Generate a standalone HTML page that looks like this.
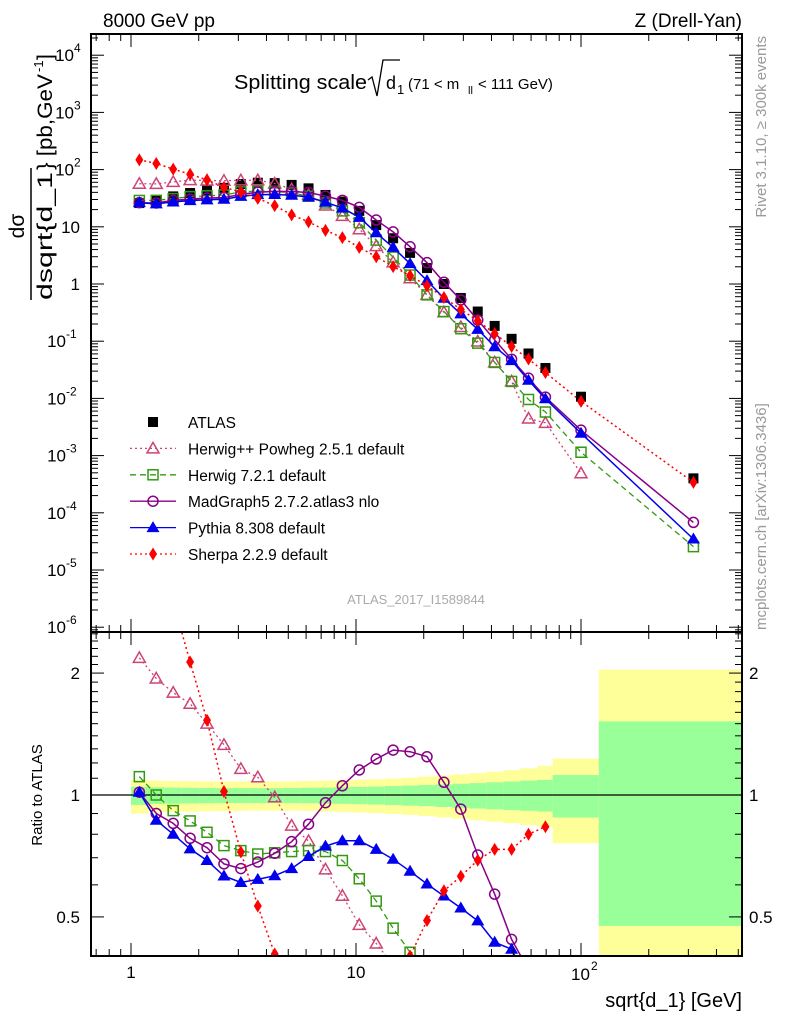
<!DOCTYPE html>
<html><head><meta charset="utf-8"><style>
html,body{margin:0;padding:0;background:#fff;overflow:hidden;width:786px;height:1024px}
svg{display:block;font-family:"Liberation Sans",sans-serif}
</style></head><body>
<svg id="c" width="786" height="1024" viewBox="0 0 786 1024">
<defs>
<clipPath id="clipTop"><rect x="91" y="34" width="651" height="598"/></clipPath>
<clipPath id="clipRat"><rect x="91" y="632" width="651" height="324"/></clipPath>
</defs>
<g id="bands" clip-path="url(#clipRat)"></g>
<g id="marksTop" clip-path="url(#clipTop)"></g>
<g id="marksRat" clip-path="url(#clipRat)"></g>
<g id="axes"></g>
<text x="103" y="27" font-size="19">8000 GeV pp</text>
<text x="742" y="27" font-size="19" text-anchor="end">Z (Drell-Yan)</text>
<g>
<text x="234" y="89" font-size="20" textLength="133" lengthAdjust="spacingAndGlyphs">Splitting scale</text>
<path d="M368,80 L372,77 L377,96 L383,60 L400,60" fill="none" stroke="#000" stroke-width="1.3"/>
<text x="386" y="89" font-size="18">d</text><text x="397" y="94" font-size="13">1</text>
<text x="408" y="89" font-size="15">(71 &lt; m</text><text x="468" y="94" font-size="11">ll</text><text x="478" y="89" font-size="15">&lt; 111 GeV)</text>
</g>
<text transform="translate(766,36) rotate(-90)" text-anchor="end" font-size="15" fill="#999">Rivet 3.1.10, ≥ 300k events</text>
<text transform="translate(766,630) rotate(-90)" font-size="15" fill="#999">mcplots.cern.ch [arXiv:1306.3436]</text>
<text x="416" y="604" font-size="13" fill="#aaa" text-anchor="middle">ATLAS_2017_I1589844</text>
<g transform="rotate(-90)">
<text x="-226" y="24" font-size="21" text-anchor="middle">dσ</text>
<line x1="-300" x2="-168" y1="31" y2="31" stroke="#000" stroke-width="1.5"/>
<text x="-300" y="52" font-size="21" textLength="128" lengthAdjust="spacingAndGlyphs">dsqrt{d_1</text>
<text x="-170" y="52" font-size="21" textLength="96" lengthAdjust="spacingAndGlyphs">} [pb,GeV</text><text x="-72" y="43" font-size="13">-1</text><text x="-60" y="52" font-size="21">]</text>
</g>
<text transform="translate(42,795) rotate(-90)" text-anchor="middle" font-size="15">Ratio to ATLAS</text>
<text x="742" y="1007" font-size="20" text-anchor="end">sqrt{d_1} [GeV]</text>
<g id="legend"></g>
</svg>
<script>
const xCenters=[1.089,1.295,1.540,1.831,2.177,2.589,3.078,3.660,4.352,5.175,6.153,7.316,8.699,10.34,12.30,14.62,17.39,20.68,24.59,29.23,34.76,41.33,49.15,58.44,69.49,100,316];
const binEdges=[1.0,1.189,1.413,1.680,1.998,2.376,2.825,3.359,3.994,4.749,5.647,6.714,7.983,9.492,11.29,13.42,15.96,18.97,22.56,26.83,31.90,37.93,45.10,53.63,63.76,74.8,120,600];
const atlas=[26,29,34,39,43,48,56,59,58,54,47,36,27.5,19,10.7,6.3,3.5,1.9,1.0,0.57,0.33,0.185,0.11,0.061,0.034,0.0107,0.0004];
const ratioHerwigPP=[2.18,1.94,1.79,1.68,1.50,1.33,1.16,1.106,0.987,0.84,0.77,0.655,0.564,0.478,0.43,0.38,0.36,0.34,0.32,0.31,0.30,0.23,0.18,0.073,0.11,0.046,null];
const ratioHerwig7=[1.11,1.0,0.915,0.863,0.809,0.75,0.729,0.715,0.72,0.725,0.729,0.725,0.689,0.621,0.547,0.469,0.409,0.34,0.33,0.29,0.28,0.23,0.18,0.157,0.17,0.107,0.064];
const ratioMadGraph=[1.016,0.90,0.851,0.782,0.741,0.676,0.658,0.683,0.718,0.767,0.847,0.957,1.054,1.153,1.227,1.291,1.279,1.243,1.075,0.923,0.711,0.569,0.44,0.37,0.31,0.26,0.17];
const ratioPythia=[1.016,0.866,0.80,0.736,0.689,0.631,0.608,0.619,0.632,0.658,0.705,0.748,0.771,0.771,0.734,0.694,0.648,0.603,0.563,0.526,0.489,0.433,0.416,0.34,0.29,0.23,0.087];
const ratioSherpa=[5.7,4.4,3.0,2.13,1.53,1.02,0.723,0.532,0.405,0.30,0.26,0.24,0.235,0.23,0.28,0.32,0.40,0.49,0.58,0.63,0.69,0.734,0.734,0.80,0.835,0.83,0.85];
const totUp=[1.09,1.085,1.083,1.082,1.081,1.08,1.08,1.08,1.08,1.081,1.083,1.085,1.088,1.091,1.094,1.098,1.103,1.11,1.118,1.125,1.133,1.142,1.152,1.164,1.18,1.23,2.04];
const totDn=[0.90,0.905,0.908,0.91,0.912,0.913,0.914,0.915,0.915,0.915,0.913,0.911,0.908,0.905,0.902,0.898,0.893,0.887,0.88,0.873,0.866,0.859,0.851,0.843,0.835,0.76,0.2];
const statUp=[1.048,1.045,1.043,1.042,1.041,1.04,1.04,1.04,1.04,1.041,1.042,1.043,1.045,1.047,1.049,1.052,1.055,1.058,1.062,1.066,1.07,1.075,1.08,1.085,1.09,1.12,1.52];
const statDn=[0.945,0.95,0.952,0.953,0.954,0.955,0.955,0.955,0.955,0.955,0.954,0.953,0.951,0.949,0.947,0.944,0.941,0.938,0.934,0.93,0.926,0.922,0.918,0.914,0.91,0.88,0.475];
const topTickExps=[4,3,2,1,0,-1,-2,-3,-4,-5,-6];
const ratioTickLabels=["0.5","1","2"];

const NS="http://www.w3.org/2000/svg";
const L=91,R=742,T=34,M=632,B=956;
const xS=v=>131+225*Math.log10(v);
const yT=v=>284-57.2*Math.log10(v);
const yR=r=>795-405*Math.log10(r);
function mk(tag,attrs,parent){const e=document.createElementNS(NS,tag);for(const k in attrs)e.setAttribute(k,attrs[k]);parent.appendChild(e);return e;}

const gB=document.getElementById('bands');
for(let i=0;i<totUp.length;i++){
  const x0=xS(binEdges[i]),x1=xS(binEdges[i+1]);
  const y=mk('rect',{x:x0,y:yR(totUp[i]),width:x1-x0,height:yR(totDn[i])-yR(totUp[i]),fill:'#ffff99'},gB);
  
  
  const g=mk('rect',{x:x0,y:yR(statUp[i]),width:x1-x0,height:yR(statDn[i])-yR(statUp[i]),fill:'#99ff99'},gB);
  
  
}

function marker(type,x,y,color,parent){
  let e;
  if(type==='sq') e=mk('rect',{x:x-5,y:y-5,width:10,height:10,fill:'#000'},parent);
  else if(type==='osq') e=mk('rect',{x:x-5,y:y-5,width:10,height:10,fill:'none',stroke:color,'stroke-width':1.5},parent);
  else if(type==='otri') e=mk('path',{d:`M${x},${y-6}L${x+6},${y+4.5}L${x-6},${y+4.5}Z`,fill:'none',stroke:color,'stroke-width':1.5},parent);
  else if(type==='tri') e=mk('path',{d:`M${x},${y-6.5}L${x+6.5},${y+4.5}L${x-6.5},${y+4.5}Z`,fill:color},parent);
  else if(type==='oc') e=mk('circle',{cx:x,cy:y,r:5,fill:'none',stroke:color,'stroke-width':1.5},parent);
  else e=mk('path',{d:`M${x},${y-6.5}L${x+4},${y}L${x},${y+6.5}L${x-4},${y}Z`,fill:color},parent);
  return e;
}
const series=[
 {name:'herwigpp',r:ratioHerwigPP,c:'#cc4477',m:'otri',dash:'2,3',w:1.3},
 {name:'herwig7',r:ratioHerwig7,c:'#339911',m:'osq',dash:'6,4',w:1.3},
 {name:'madgraph',r:ratioMadGraph,c:'#880088',m:'oc',dash:'',w:1.5},
 {name:'pythia',r:ratioPythia,c:'#0000ee',m:'tri',dash:'',w:1.5},
 {name:'sherpa',r:ratioSherpa,c:'#ff0000',m:'dia',dash:'2,3',w:1.5}
];
const gT=document.getElementById('marksTop'),gR=document.getElementById('marksRat');
const ref=mk('line',{x1:L,x2:R,y1:yR(1),y2:yR(1),stroke:'#000','stroke-width':1.2},gR);


for(let i=0;i<atlas.length;i++){
  const e=marker('sq',xS(xCenters[i]),yT(atlas[i]),'#000',gT);
  
  
}
for(const s of series){
  let pT='',pR='';
  for(let i=0;i<s.r.length;i++){
    if(s.r[i]==null)continue;
    const x=xS(xCenters[i]);
    pT+=(pT?'L':'M')+x.toFixed(1)+','+yT(s.r[i]*atlas[i]).toFixed(1);
    if(i<25) pR+=(pR?'L':'M')+x.toFixed(1)+','+yR(s.r[i]).toFixed(1);
  }
  const lt=mk('path',{d:pT,fill:'none',stroke:s.c,'stroke-width':s.w,'stroke-dasharray':s.dash},gT);
  
  
  const lr=mk('path',{d:pR,fill:'none',stroke:s.c,'stroke-width':s.w,'stroke-dasharray':s.dash},gR);
  
  
  for(let i=0;i<s.r.length;i++){
    if(s.r[i]==null)continue;
    const x=xS(xCenters[i]);
    const a=marker(s.m,x,yT(s.r[i]*atlas[i]),s.c,gT);
    
    
    if(i<25){
      const b=marker(s.m,x,yR(s.r[i]),s.c,gR);
      
      
    }
  }
}
const gA=document.getElementById('axes');
mk('rect',{x:L,y:T,width:R-L,height:M-T,fill:'none',stroke:'#000','stroke-width':2},gA);
mk('rect',{x:L,y:M,width:R-L,height:B-M,fill:'none',stroke:'#000','stroke-width':2},gA);
function ln(x1,y1,x2,y2){mk('line',{x1,y1,x2,y2,stroke:'#000','stroke-width':1},gA);}
for(let d=0;d<3;d++)for(let k=1;k<10;k++){
  const v=k*Math.pow(10,d);const x=xS(v);if(x>R)continue;
  const len=k===1?13:7;
  ln(x,T,x,T+len);ln(x,M,x,M-len);ln(x,M,x,M+len);ln(x,B,x,B-len);
}
for(const k of [6,7,8,9]){const x=xS(k/10);if(x>L){ln(x,T,x,T+7);ln(x,M,x,M-7);ln(x,M,x,M+7);ln(x,B,x,B-7);}}
const xl=[[1,'1'],[10,'10']];
for(const [v,t] of xl){const e=mk('text',{x:xS(v),y:978,'font-size':17,'text-anchor':'middle'},gA);e.textContent=t;
 }
const e100=mk('text',{x:xS(100)-10,y:980,'font-size':17},gA);e100.textContent='10';
const s100=mk('text',{x:xS(100)+10,y:970,'font-size':12},gA);s100.textContent='2';
for(let e=-7;e<=4;e++)for(let k=1;k<10;k++){
  const y=yT(k*Math.pow(10,e));if(y<T||y>M)continue;
  const len=k===1?13:7;ln(L,y,L+len,y);ln(R,y,R-len,y);
}
for(const ex of topTickExps){
  const y=yT(Math.pow(10,ex));
  if(ex===0||ex===1){const t=mk('text',{x:80,y:y+6,'font-size':17,'text-anchor':'end'},gA);t.textContent=ex===0?'1':'10';
    }
  else{const t=mk('text',{x:ex<0?66:74,y:y+6,'font-size':17,'text-anchor':'end'},gA);t.textContent='10';
    
    const s=mk('text',{x:ex<0?66:74,y:y-3,'font-size':12},gA);s.textContent=String(ex);}
}
for(let v=0.4;v<2.55;v+=0.1){
  const y=yR(v);if(y<M||y>B)continue;
  const major=Math.abs(v-0.5)<1e-6||Math.abs(v-1)<1e-6||Math.abs(v-2)<1e-6;
  const len=major?13:7;ln(L,y,L+len,y);ln(R,y,R-len,y);
}
for(const t of ratioTickLabels){
  const y=yR(parseFloat(t));
  const a=mk('text',{x:80,y:y+6,'font-size':17,'text-anchor':'end'},gA);a.textContent=t;
  
  const b=mk('text',{x:749,y:y+6,'font-size':17},gA);b.textContent=t;
  
}
const gL=document.getElementById('legend');
const legItems=[['ATLAS','sq','#000',''],['Herwig++ Powheg 2.5.1 default','otri','#cc4477','2,3'],['Herwig 7.2.1 default','osq','#339911','6,4'],['MadGraph5 2.7.2.atlas3 nlo','oc','#880088',''],['Pythia 8.308 default','tri','#0000ee',''],['Sherpa 2.2.9 default','dia','#ff0000','2,3']];
legItems.forEach((it,i)=>{
  const y=422+26.4*i;
  const g=mk('g',{},gL);
  
  
  if(i>0)mk('line',{x1:130,x2:176,y1:y,y2:y,stroke:it[2],'stroke-width':1.3,'stroke-dasharray':it[3]},g);
  marker(it[1],153,y,it[2],g);
  const t=mk('text',{x:188,y:y+6,'font-size':15.5},g);t.textContent=it[0];
});
</script>
</body></html>
